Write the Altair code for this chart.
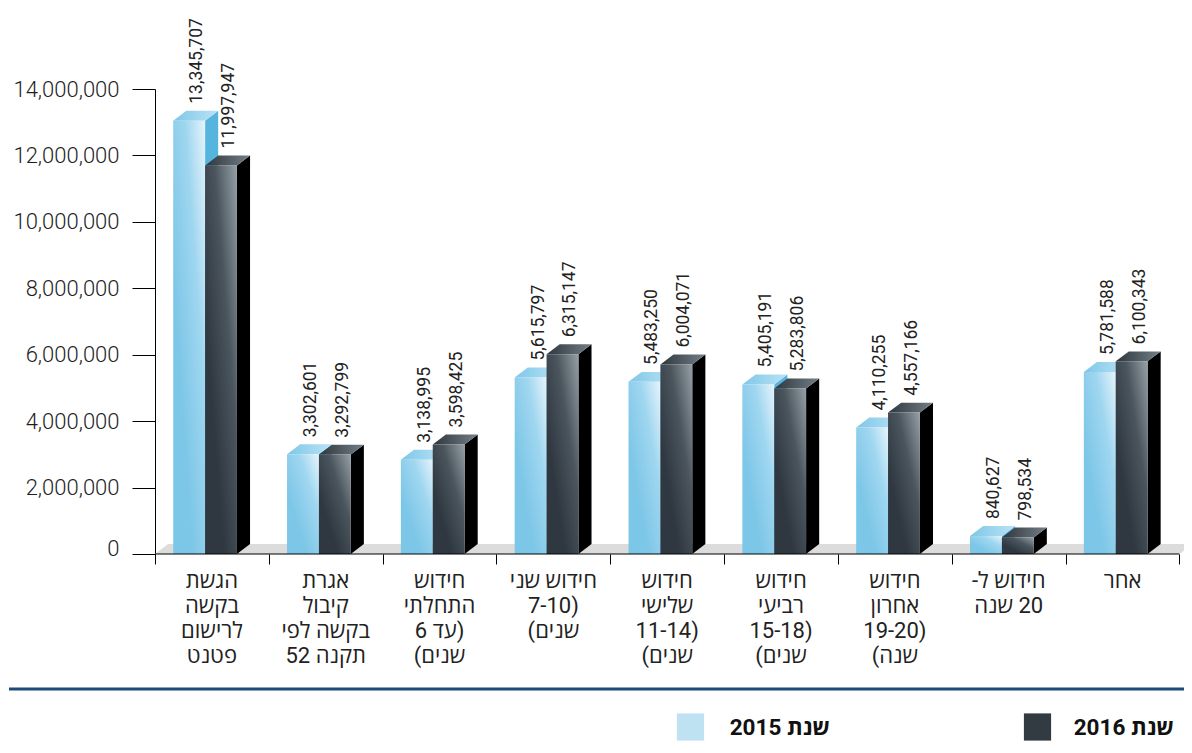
import altair as alt
import pandas as pd

# ---------------- data ----------------
categories = [
    ["הגשת", "בקשה", "לרישום", "פטנט"],
    ["אגרת", "קיבול", "בקשה לפי", "תקנה 52"],
    ["חידוש", "התחלתי", "(עד 6", "שנים)"],
    ["חידוש שני", "(7-10", "שנים)"],
    ["חידוש", "שלישי", "(11-14", "שנים)"],
    ["חידוש", "רביעי", "(15-18", "שנים)"],
    ["חידוש", "אחרון", "(19-20", "שנה)"],
    ["חידוש ל-", "20 שנה"],
    ["אחר"],
]
values_2015 = [13345707, 3302601, 3138995, 5615797, 5483250, 5405191, 4110255, 840627, 5781588]
values_2016 = [11997947, 3292799, 3598425, 6315147, 6004071, 5283806, 4557166, 798534, 6100343]
series_names = ["שנת 2015", "שנת 2016"]
y_ticks = [0, 2000000, 4000000, 6000000, 8000000, 10000000, 12000000, 14000000]

# ---------------- geometry / style ----------------
RLE, PDF = "\u202B", "\u202C"
FONT = "Roboto, 'Open Sans', 'Liberation Sans', sans-serif"
BAR_W = 0.28
START = {"2015": 0.16, "2016": 0.44}
DX = 0.115      # 3D depth along x (category units)
DY = 300000     # 3D depth along y (value units)
N = len(categories)

front, side, top, labels = [], [], [], []
for s, vals in (("2015", values_2015), ("2016", values_2016)):
    for i, v in enumerate(vals):
        a = i + START[s]
        b = a + BAR_W
        bid = f"{s}-{i}"
        front.append(dict(series=s, id=bid, x=a, x2=b, top=v - DY, bot=0))
        side += [dict(series=s, id=bid, x=b, top=v - DY, bot=0),
                 dict(series=s, id=bid, x=b + DX, top=v, bot=DY)]
        top += [dict(series=s, id=bid, x=a, top=v - DY, bot=v - DY),
                dict(series=s, id=bid, x=a + DX, top=v, bot=v - DY),
                dict(series=s, id=bid, x=b, top=v, bot=v - DY),
                dict(series=s, id=bid, x=b + DX, top=v, bot=v)]
        labels.append(dict(series=s, x=a + 0.21, y=v, text=f"{v:,}"))

front = pd.DataFrame(front)
side = pd.DataFrame(side)
top = pd.DataFrame(top)
labels = pd.DataFrame(labels)

floor = pd.DataFrame([
    dict(id="f", x=0, top=0, bot=0),
    dict(id="f", x=DX, top=DY, bot=0),
    dict(id="f", x=N, top=DY, bot=0),
    dict(id="f", x=N + DX, top=DY, bot=DY),
])

cat_df = pd.DataFrame({
    "x": [i + 0.5 for i in range(N)],
    "label": ["\n".join(RLE + line + PDF for line in c) for c in categories],
})
axis_line = pd.DataFrame({"x": [0], "x2": [N], "y": [0]})

# ---------------- scales / axes ----------------
xscale = alt.Scale(domain=[0, 9.04], nice=False, zero=False)
yscale = alt.Scale(domain=[0, 14000000], nice=False, zero=False)
xaxis = alt.Axis(values=list(range(N + 1)), labels=False, tickSize=10, domain=False,
                 grid=False, title=None, tickColor="#000000", tickWidth=1)
yaxis = alt.Axis(values=y_ticks, format=",.0f", tickSize=23, labelPadding=13,
                 labelFontSize=22, labelFont=FONT, labelColor="#1e1e1e",
                 labelFontWeight=300, domainColor="#000000", tickColor="#000000",
                 labelOffset={"condition": {"test": "datum.value === 0", "value": -6}, "value": 0},
                 grid=False, title=None)


def X(f="x"):
    return alt.X(f"{f}:Q", scale=xscale, axis=xaxis)


def Y(f):
    return alt.Y(f"{f}:Q", scale=yscale, axis=yaxis)


def grad(stops, x1, y1, x2, y2):
    return alt.LinearGradient(
        gradient="linear",
        stops=[alt.GradientStop(color=c, offset=o) for o, c in stops],
        x1=x1, y1=y1, x2=x2, y2=y2)


light_front = grad([(0, "#e6f4fb"), (0.45, "#9fd6f0"), (1, "#7cc6e7")], 1, 0, 0.3, 0.7)
dark_front = grad([(0, "#95a0a7"), (0.5, "#4b555d"), (1, "#2f3840")], 1, 0, 0.3, 0.7)
light_top = grad([(0, "#7fc7e7"), (1, "#b9e3f6")], 0, 0, 1, 0)
dark_top = grad([(0, "#2f373e"), (1, "#737e86")], 0, 0, 1, 0)

floor_layer = alt.Chart(floor).mark_area(fill="#dcdcdc", opacity=1, clip=True).encode(
    x=X(), y=Y("top"), y2="bot:Q", detail="id:N")


def bar_layers(s, front_fill, side_fill, top_fill):
    f = front[front.series == s]
    sd = side[side.series == s]
    t = top[top.series == s]
    l1 = alt.Chart(sd).mark_area(fill=side_fill, opacity=1, interpolate="linear").encode(
        x=X(), y=Y("top"), y2="bot:Q", detail="id:N")
    l2 = alt.Chart(t).mark_area(fill=top_fill, opacity=1, interpolate="linear").encode(
        x=X(), y=Y("top"), y2="bot:Q", detail="id:N")
    l3 = alt.Chart(f).mark_rect(fill=front_fill, opacity=1).encode(
        x=X(), x2="x2:Q", y=Y("top"), y2="bot:Q")
    return [l1, l2, l3]


rule_layer = alt.Chart(axis_line).mark_rule(color="#000000", strokeWidth=1).encode(
    x=X(), x2="x2:Q", y=Y("y"))

value_labels = alt.Chart(labels).mark_text(
    angle=270, align="left", baseline="middle", fontSize=17.5, font=FONT,
    color="#222222", yOffset=-7).encode(x=X(), y=Y("y"), text="text:N")

cat_labels = alt.Chart(cat_df).mark_text(
    align="center", baseline="top", fontSize=22, font=FONT, color="#222222",
    lineBreak="\n", lineHeight=25).encode(x=X(), y=alt.value(482), text="label:N")

sep_line = alt.Chart(axis_line).mark_rule(color="#1d4a78", strokeWidth=3).encode(
    x=alt.value(-146), x2=alt.value(1029), y=alt.value(600))

legend_df = pd.DataFrame({"name": [RLE + n + PDF for n in series_names]})
leg_sq_15 = alt.Chart(legend_df).mark_square(size=740, color="#bfe2f3", opacity=1).encode(
    x=alt.value(535.5), y=alt.value(638)).transform_filter(alt.datum.name == legend_df.name[0])
leg_sq_16 = alt.Chart(legend_df).mark_square(size=740, color="#323a42", opacity=1).encode(
    x=alt.value(882.5), y=alt.value(638)).transform_filter(alt.datum.name == legend_df.name[1])
leg_tx_15 = alt.Chart(legend_df).mark_text(
    align="right", baseline="alphabetic", fontSize=22.5, fontWeight="bold", font=FONT,
    color="#111111").encode(x=alt.value(675), y=alt.value(646), text="name:N"
    ).transform_filter(alt.datum.name == legend_df.name[0])
leg_tx_16 = alt.Chart(legend_df).mark_text(
    align="right", baseline="alphabetic", fontSize=22.5, fontWeight="bold", font=FONT,
    color="#111111").encode(x=alt.value(1019), y=alt.value(646), text="name:N"
    ).transform_filter(alt.datum.name == legend_df.name[1])

layers = [floor_layer]
layers += bar_layers("2015", light_front, "#55b5de", light_top)
layers += bar_layers("2016", dark_front, "#000000", dark_top)
layers += [rule_layer, value_labels, cat_labels, sep_line,
           leg_sq_15, leg_sq_16, leg_tx_15, leg_tx_16]

chart = alt.layer(*layers).properties(
    width=1029, height=465,
    padding={"left": 147, "top": 81, "right": 0, "bottom": 189},
    autosize=alt.AutoSizeParams(type="none"),
).configure_view(stroke=None)

chart.save("out.html", embed_options={"renderer": "svg", "actions": False})
